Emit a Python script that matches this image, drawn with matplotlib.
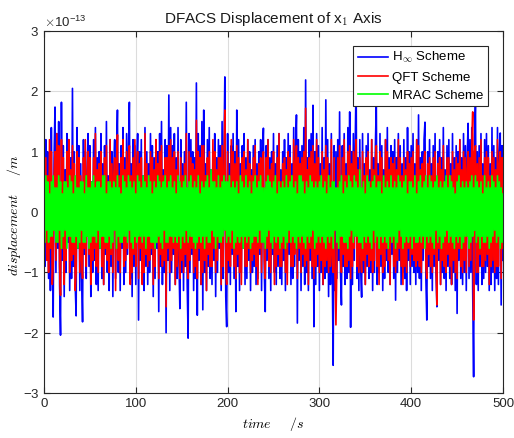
import numpy as np
import matplotlib
matplotlib.use("Agg")
from matplotlib import pyplot as plt
from matplotlib.ticker import ScalarFormatter

# displacement in units of 1e-13 m, one sample per second from 0 to 500 s
t = np.arange(0, 501)

h_inf = [
    .6, -.9, 1.2, -.5, 1.0, -1.1, .8, -1.3, 1.4, -.7, -1.74, .9, 1.74, -1.0, 1.3, -.6, 1.5, -1.2, -2.04, 1.82,
    -.8, 1.1, -1.4, .7, -1.0, 1.3, -.5, 1.2, -1.3, .9, -1.1, 2.05, -.9, 1.0, -1.2, -1.72, 1.4, -.6, 1.1, -1.3,
    .8, -1.0, -1.82, 1.2, -.7, 1.0, -1.1, .6, 1.3, -.9, 1.1, -1.4, .5, -1.0, 1.2, -.8, 1.4, -1.2, .9, -1.3,
    1.0, -.6, 1.3, -1.1, .8, -1.2, 1.1, -.7, 1.5, -1.0, .6, -1.3, 1.2, -.9, 1.0, -1.4, .7, 1.2, -1.1, .9,
    1.69, -1.0, .8, -1.3, 1.1, -.6, 1.4, -1.2, .9, -1.0, 1.3, -.7, 1.0, 1.82, -1.1, .8, -1.4, 1.2, -.9, 1.1,
    -1.2, .7, 1.3, -1.79, 1.0, -.8, 1.2, -1.1, .6, -1.3, 1.4, -.9, 1.0, -1.2, .8, -1.0, 1.3, -.7, 1.1, -1.4,
    .9, -1.1, 1.2, -.6, 1.0, -1.65, 1.3, -.9, 1.5, -1.2, .7, -1.0, 1.2, -2.0, 1.1, -.8, 1.94, -1.3, 1.4, -1.0,
    1.1, -.7, 1.3, -1.2, .9, -1.1, 1.4, -.8, -1.6, 1.2, -1.0, .8, -1.3, 1.0, -.9, 1.82, -1.2, -2.09, 1.3, -1.0,
    1.2, -.7, 1.0, -1.3, .9, -1.1, 2.14, -1.71, 1.3, -.8, 1.1, -1.2, 1.5, -1.62, 1.69, -1.0, .8, -1.3, 1.2, -.9,
    1.4, -1.1, .7, -1.2, 1.0, -.8, 1.3, -1.4, .9, -1.0, 1.2, -.6, 1.1, -1.3, 1.5, -1.1, .9, 2.24, -1.4, -1.9,
    1.3, -1.0, .8, -1.2, 1.1, -.7, 1.3, -1.1, 1.0, -1.65, 1.69, -.9, 1.2, -1.3, .8, -1.0, 1.1, -.6, 1.3, -1.2,
    .9, -1.1, 1.2, -.8, 1.0, -1.3, .7, -1.0, 1.1, -.9, 1.2, -1.2, .8, -1.1, 1.0, -.7, 1.2, -1.3, .9, 1.39,
    -1.0, -1.65, 1.1, -.8, 1.2, -1.1, .9, -1.3, 1.0, -.7, 1.3, -1.0, .8, -1.2, 1.1, -.9, 1.3, -1.1, .7, -1.2,
    1.0, -.8, 1.2, -1.3, .9, -1.0, 1.3, -.7, 1.1, -1.2, .8, -1.1, 1.4, -.9, 1.0, 1.61, -1.84, 1.2, -.8, 1.0,
    -1.3, 1.1, -.9, 1.4, -1.2, 2.19, -1.0, .9, -1.3, 1.2, -.8, 1.3, -1.1, 1.77, -1.9, 1.0, -1.2, 1.3, -.9, 1.1,
    -1.3, .8, -1.0, 1.4, -1.2, .9, -1.1, 1.86, -1.0, 1.2, -1.4, .8, -1.2, 1.3, -.9, -2.54, 1.1, -1.3, 1.0, -1.1,
    1.2, -.8, 1.66, -1.0, -1.54, 1.1, -.9, 1.3, -1.2, .8, -1.1, 1.4, -1.0, 1.66, -1.91, 1.0, -1.2, 1.3, -.8, 1.1,
    2.19, -1.1, .9, -1.3, 1.2, -.9, -1.41, 1.3, -1.0, .8, -1.2, 1.1, -.9, 1.3, -1.1, .7, -1.0, 1.2, -1.3, .9,
    -1.0, 1.1, 1.82, -1.2, .8, -1.0, 1.3, -.9, 1.1, -1.3, .7, -1.1, 1.2, -.8, 1.4, -1.0, .9, -1.2, 1.1, -.7,
    1.0, -1.1, 1.2, -1.46, .9, -1.0, 1.3, -.8, 1.1, -1.2, .8, -1.0, 1.2, -1.1, .9, -1.3, 1.4, -.8, 1.0, -1.2,
    1.1, -.9, 1.3, -1.0, .8, -1.2, 1.2, -1.0, 1.61, -1.1, .9, -1.3, 1.0, -.8, 1.2, 1.49, -1.1, -1.79, 1.0, -.9,
    1.2, -1.1, .8, -1.3, 1.1, -.9, 1.3, -1.0, -1.57, 1.0, -.8, 1.2, -1.2, .9, -1.0, 1.4, -1.1, .7, -1.3, 1.1,
    -.9, 1.2, -1.1, .8, -1.2, 1.3, -1.0, .9, -1.3, 1.1, -1.68, 1.0, -.8, 1.2, -1.1, .9, -1.2, 1.3, -1.0, 1.1,
    -1.3, .9, 1.47, -1.1, 1.2, -1.0, 1.4, -1.3, -2.73, 1.2, 1.82, -1.2, 1.0, -1.3, 1.1, -.9, 1.3, -1.2, .8, -1.1,
    1.2, -1.0, 1.3, -.9, 1.1, -1.3, .8, -1.2, 1.4, -1.0, 1.1, -1.3, .9, -1.1, 1.4, -1.2, 1.0, 1.31, -1.54, 1.1,
    -.8,
]

qft = [
    .7, -.5, .9, -.8, .6, -1.0, 1.2, -.6, 1.0, -1.2, -.9, .6, 1.0, -.8, 1.3, -.5, 1.1, -.9, -1.38, 1.2,
    -.6, .9, -1.2, .5, -.8, 1.0, -.4, 1.2, -1.0, .7, -.8, 1.1, -.7, .8, -1.3, -1.0, 1.0, -.5, .9, -1.0,
    .6, -.8, -1.1, .9, -.6, 1.2, -.9, .5, 1.0, -.7, .9, -1.2, .4, -.8, .9, -.6, 1.3, -.9, .7, -1.0,
    .8, -.5, 1.0, -.9, .6, -1.2, .9, -.6, 1.1, -.8, .5, -1.0, 1.2, -.7, .8, -1.0, .6, .9, -1.3, .7,
    1.28, -.8, .6, -1.0, .9, -.5, 1.2, -.9, .7, -.8, 1.0, -.6, .8, 1.1, -1.2, .6, -1.0, .9, -.7, 1.2,
    -.9, .6, 1.0, -1.1, .8, -.6, .9, -1.2, .5, -1.0, 1.3, -.7, .8, -.9, .6, -.8, 1.0, -.6, .9, -1.2,
    .7, -.9, 1.2, -.5, .8, -1.1, 1.0, -.7, 1.1, -.9, .6, -.8, .9, -1.57, .9, -.6, 1.1, -1.0, 1.2, -.8,
    .9, -.6, 1.0, -1.2, .7, -.9, 1.0, -.6, -1.1, .9, -.8, .6, -1.0, .8, -.7, 1.3, -.9, -1.1, 1.0, -.8,
    .9, -.6, .8, -1.0, .7, -.9, 1.52, -1.1, 1.0, -.6, .9, -1.2, 1.1, -1.0, 1.1, -.8, .6, -1.3, .9, -.7,
    1.0, -.9, .6, -.9, 1.2, -.6, 1.0, -1.0, .7, -.8, .9, -.5, .9, -1.2, 1.1, -.9, .7, 1.69, -1.0, -1.2,
    1.0, -.8, .6, -.9, 1.2, -.6, 1.0, -.9, .8, -1.1, 1.1, -.7, .9, -1.0, .6, -1.2, .9, -.5, 1.0, -.9,
    .7, -.9, 1.2, -.6, .8, -1.0, .6, -.8, .9, -.7, 1.1, -.9, .6, -1.2, .8, -.6, .9, -1.0, .7, 1.0,
    -.8, -1.1, .9, -.6, 1.2, -.9, .7, -1.0, .8, -.5, 1.0, -1.2, .6, -.9, .9, -.7, 1.3, -.9, .5, -.9,
    .8, -.6, .9, -1.0, .7, -1.2, 1.0, -.5, .9, -.9, .6, -.9, 1.2, -.7, .8, 1.1, -1.1, .9, -.6, .8,
    -1.0, .9, -.7, 1.0, -.9, 1.72, -.8, .7, -1.2, .9, -.6, 1.0, -.9, 1.1, -1.1, .8, -.9, 1.2, -.7, .9,
    -1.0, .6, -.8, 1.0, -1.2, .7, -.9, 1.1, -.8, .9, -1.0, .6, -.9, 1.2, -.7, -1.0, .9, -1.0, -1.87, -.9,
    .9, -.6, 1.1, -.8, -1.0, .9, -.7, 1.2, -.9, .6, -.9, 1.0, -.8, 1.1, -1.1, .8, -.9, 1.0, -.6, .9,
    1.2, -.9, .7, -1.0, .9, -.7, -1.0, 1.0, -.8, .6, -1.2, .9, -.7, 1.0, -.9, .5, -.8, 1.2, -1.0, .7,
    -.8, .9, 1.1, -.9, .6, -1.2, 1.0, -.7, .9, -1.0, .5, -.9, 1.2, -.6, 1.0, -.8, .7, -1.2, .9, -.5,
    .8, -.9, .9, -1.0, .7, -.8, 1.2, -.6, .9, -.9, .6, -1.2, .9, -.9, .7, -1.0, 1.0, -.6, .8, -.9,
    .9, -.7, 1.0, -.8, .6, -.9, 1.2, -.8, 1.1, -.9, .7, -1.0, .8, -.6, .9, 1.0, -.9, -1.1, .8, -.7,
    .9, -.9, .6, -1.0, .9, -.7, 1.0, -.8, -1.54, .8, -.6, .9, -1.2, .7, -.8, 1.1, -.9, .5, -1.0, .9,
    -.7, .9, -.9, .6, -1.2, 1.0, -.8, .7, -1.0, .9, -1.1, .8, -.6, 1.2, -.9, .7, -1.0, 1.0, -.8, .9,
    -1.0, .7, 1.0, -.9, .9, -.8, 1.1, 1.66, -1.79, 1.0, 1.1, -1.0, .8, -1.0, .9, -.7, 1.2, -.9, .6, -.9,
    .9, -.8, 1.0, -.7, .9, -1.2, .6, -.9, 1.0, -.8, .9, -1.0, .7, -.9, 1.2, -.9, .8, 1.0, -1.1, .9,
    -.6,
]

mrac = [
    .4, -.5, .6, -.3, .5, -.5, .3, -.4, .5, -.4, .6, -.3, .4, -.5, .4, -.5, .6, -.3, .5, -.6,
    .3, -.4, .5, -.3, .5, -.6, .4, -.4, .6, -.4, .5, -.5, .3, -.5, .6, -.4, .4, -.6, .4, -.5,
    .5, -.3, .5, -.5, .3, -.5, .6, -.4, .4, -.6, .4, -.5, .5, -.4, .6, -.4, .4, -.5, .5, -.3,
    .5, -.6, .4, -.4, .6, -.4, .6, -.5, .3, -.5, .5, -.4, .5, -.6, .4, -.5, .5, -.3, .4, -.6,
    .6, -.4, .4, -.5, .3, -.5, .6, -.4, .5, -.4, .4, -.5, .6, -.3, .5, -.5, .4, -.6, .5, -.4,
    .3, -.5, .6, -.4, .5, -.4, .4, -.5, .6, -.4, .5, -.6, .4, -.4, .6, -.4, .5, -.5, .3, -.5,
    .5, -.6, .4, -.5, .6, -.4, .5, -.5, .4, -.6, .5, -.3, .6, -.5, .4, -.5, .5, -.4, .6, -.4,
    .4, -.5, .5, -.4, .3, -.5, .6, -.4, .5, -.6, .4, -.4, .5, -.5, .6, -.3, .4, -.5, .5, -.4,
    .6, -.4, .4, -.5, .5, -.6, .4, -.5, .6, -.4, .3, -.5, .5, -.4, .4, -.6, .5, -.4, .6, -.5,
    .4, -.5, .7, -.3, .5, -.4, .5, -.6, .4, -.4, .6, -.5, .4, -.5, .5, -.4, .6, -.3, .5, -.5,
    .5, -.4, .6, -.5, .4, -.3, .5, -.6, .4, -.5, .5, -.4, .3, -.5, .6, -.4, .5, -.6, .4, -.4,
    .6, -.5, .4, -.4, .5, -.6, .3, -.5, .5, -.4, .6, -.4, .4, -.5, .5, -.3, .6, -.5, .4, -.5,
    .4, -.6, .5, -.4, .6, -.3, .5, -.5, .4, -.6, .5, -.4, .6, -.5, .3, -.4, .5, -.6, .4, -.5,
    .5, -.4, .4, -.6, .6, -.5, .4, -.3, .5, -.5, .6, -.4, .4, -.5, .5, -.6, .3, -.4, .6, -.5,
    .6, -.4, .5, -.5, .3, -.6, .5, -.4, .4, -.5, .6, -.4, .5, -.3, .4, -.6, .5, -.5, .4, -.4,
    .5, -.5, .6, -.4, .4, -.5, .5, -.6, .3, -.4, .6, -.5, .4, -.4, .5, -.6, .5, -.3, .4, -.5,
    .4, -.6, .5, -.4, .6, -.4, .3, -.5, .5, -.5, .4, -.6, .6, -.4, .5, -.3, .4, -.5, .6, -.4,
    .5, -.4, .4, -.5, .7, -.5, .4, -.6, .5, -.4, .3, -.5, .6, -.4, .5, -.5, .4, -.6, .5, -.3,
    .6, -.5, .4, -.4, .5, -.6, .5, -.4, .3, -.5, .6, -.4, .4, -.5, .5, -.6, .4, -.4, .6, -.5,
    .4, -.4, .5, -.6, .4, -.5, .6, -.3, .5, -.4, .4, -.6, .5, -.5, .6, -.4, .3, -.5, .5, -.4,
    .5, -.6, .4, -.4, .6, -.5, .3, -.5, .5, -.4, .6, -.5, .4, -.4, .5, -.6, .6, -.4, .4, -.5,
    .6, -.4, .5, -.5, .4, -.6, .5, -.3, .6, -.5, .4, -.4, .5, -.6, .4, -.5, .5, -.4, .6, -.3,
    .4, -.5, .6, -.4, .5, -.5, .4, -.6, .3, -.4, .5, -.5, .6, -.4, .4, -.6, .5, -.5, .4, -.4,
    .5, -.4, .4, -.6, .5, -.5, .6, -.4, .4, -.3, .6, -.5, .5, -.4, .4, -.6, .5, -.4, .3, -.5,
    .6, -.5, .4, -.4, .5, -.6, .4, -.5, .6, -.4, .5, -.3, .4, -.5, .6, -.4, .5, -.6, .4, -.5,
    .3,
]

scale = 1e-13

plt.rcParams["font.family"] = ["Liberation Sans", "DejaVu Sans"]
plt.rcParams["mathtext.fontset"] = "cm"
plt.rcParams["font.size"] = 9.5
plt.rcParams["axes.unicode_minus"] = False

fig = plt.figure(figsize=(5.14, 4.38), dpi=100)
ax = fig.add_axes([0.0856, 0.1027, 0.893, 0.8263])

ax.plot(t, np.array(h_inf) * scale, color=(0, 0, 1), lw=1.2, label=r"H$_{\infty}$ Scheme")
ax.plot(t, np.array(qft) * scale, color=(1, 0, 0), lw=1.2, label="QFT Scheme")
ax.plot(t, np.array(mrac) * scale, color=(0, 1, 0), lw=1.2, label="MRAC Scheme")

ax.set_xlim(0, 500)
ax.set_ylim(-3e-13, 3e-13)
ax.set_xticks([0, 100, 200, 300, 400, 500])
ax.set_yticks(np.arange(-3, 4) * scale)
fmt = ScalarFormatter(useMathText=True)
fmt.set_powerlimits((0, 0))
ax.yaxis.set_major_formatter(fmt)
ax.yaxis.get_offset_text().set_fontsize(9.5)

ax.grid(True, color="#dcdcdc", lw=0.8)
ax.set_axisbelow(True)
ax.tick_params(direction="in", top=True, right=True, length=4, color="#262626", labelcolor="#262626")
for s in ax.spines.values():
    s.set_color("#262626")
    s.set_linewidth(0.8)

ax.set_title(r"DFACS Displacement of x$_1$ Axis", fontsize=11, color="#1a1a1a", pad=6)
ax.set_xlabel(r"$time\quad\;\;/s$", fontsize=10)
ax.set_ylabel(r"$displacement\quad\;\;/m$", fontsize=10)
ax.yaxis.set_label_coords(-0.045, 0.49)

leg = ax.legend(loc="upper right", bbox_to_anchor=(0.968, 0.96), fancybox=False,
                framealpha=1, edgecolor="#262626", fontsize=9.5, handlelength=2.3,
                borderpad=0.35, labelspacing=0.45, handletextpad=0.3, borderaxespad=0)
leg.get_frame().set_linewidth(0.8)

fig.savefig("out.png", dpi=100)
